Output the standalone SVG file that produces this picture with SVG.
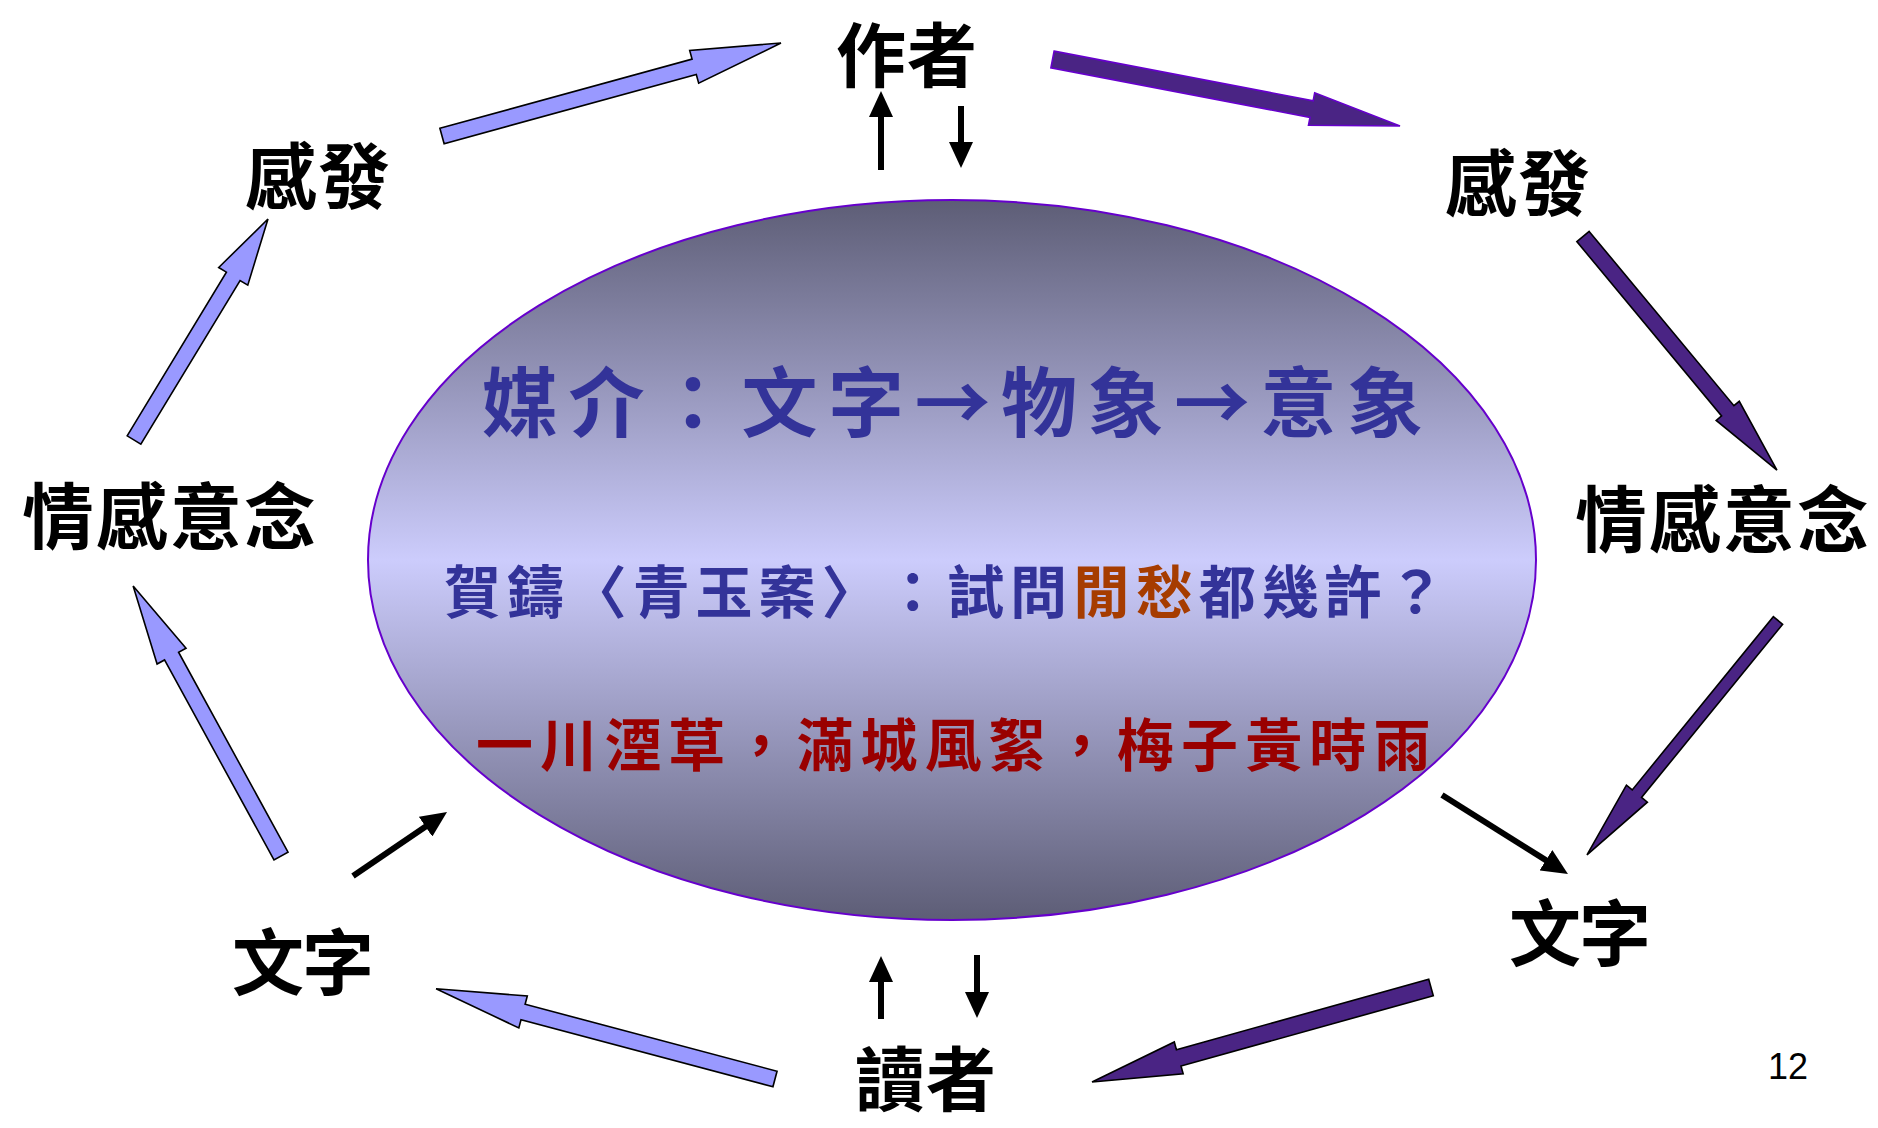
<svg xmlns="http://www.w3.org/2000/svg" width="1878" height="1128" viewBox="0 0 1878 1128">
<defs>
<linearGradient id="eg" x1="0" y1="0" x2="0" y2="1">
<stop offset="0" stop-color="#5d5d76"/>
<stop offset="0.5" stop-color="#ccccfc"/>
<stop offset="1" stop-color="#5d5d76"/>
</linearGradient>
<marker id="ah" markerUnits="userSpaceOnUse" markerWidth="26" markerHeight="24" viewBox="0 0 26 24" refX="6" refY="12" orient="auto">
<path d="M0,0 L26,12 L0,24 z" fill="#000"/>
</marker>
</defs>
<style>
.lbl{font-family:"Noto Sans CJK TC","Noto Sans CJK SC",sans-serif;font-weight:700;font-size:72px;fill:#000}
.lbs{font-family:"Noto Sans CJK TC","Noto Sans CJK SC",sans-serif;font-weight:700;font-size:70px;fill:#000}
.t1{font-family:"Noto Sans CJK TC","Noto Sans CJK SC",sans-serif;font-weight:700;font-size:76px;fill:#333399}
.t2{font-family:"Noto Sans CJK TC","Noto Sans CJK SC",sans-serif;font-weight:700;font-size:57px;fill:#333399}
.t3{font-family:"Noto Sans CJK TC","Noto Sans CJK SC",sans-serif;font-weight:700;font-size:57px;fill:#990000}
.hl{fill:#a63c00}
.la{fill:#9999ff;stroke:#000;stroke-width:1.6;stroke-linejoin:miter}
.da{fill:#4a2484;stroke:#000;stroke-width:1.6}
.da1{fill:#4a2484;stroke:#6600cc;stroke-width:1.6}
.bl{stroke:#000;stroke-width:6;fill:none;marker-end:url(#ah)}
.pg{font-family:"Liberation Sans",Arial,sans-serif;font-size:36px;fill:#000}
</style>
<rect width="1878" height="1128" fill="#fff"/>

<g id="center">
<ellipse cx="952" cy="560" rx="584" ry="360" fill="url(#eg)" stroke="#6600cc" stroke-width="2"/>
<text class="t1" x="482 568.5 655 741.5 828 914.5 1001 1087.5 1174 1260.5 1347" y="431">媒介：文字→物象→意象</text>
<text class="t2" y="613"><tspan x="444 506.9 569.8 632.7 695.6 758.5 821.4 884.3 947.2 1010.1">賀鑄〈青玉案〉：試問</tspan><tspan class="hl" x="1073 1135.9">閒愁</tspan><tspan x="1198.8 1261.7 1324.6 1387.5">都幾許？</tspan></text>
<text class="t3" x="476 540.1 604.2 668.3 732.4 796.5 860.6 924.7 988.8 1052.9 1117 1181.1 1245.2 1309.3 1373.4" y="766">一川湮草，滿城風絮，梅子黃時雨</text>
</g>

<g id="author"><text class="lbs" x="836 907" y="82">作者</text></g>
<g id="inspire-left"><text class="lbl" x="245 318" y="203">感發</text></g>
<g id="inspire-right"><text class="lbl" x="1445 1518" y="210">感發</text></g>
<g id="emotion-left"><text class="lbl" x="22 96 170 244" y="543">情感意念</text></g>
<g id="emotion-right"><text class="lbl" x="1575 1649 1723 1797" y="546">情感意念</text></g>
<g id="words-left"><text class="lbl" x="232 302" y="989">文字</text></g>
<g id="words-right"><text class="lbl" x="1509 1579" y="960">文字</text></g>
<g id="reader"><text class="lbs" x="855 926" y="1106">讀者</text></g>
<g id="page"><text class="pg" x="1768" y="1079">12</text></g>

<g id="connectors">
<polygon class="la" transform="translate(442,136) rotate(-15.34)" points="0,-8 261.5,-8 261.5,-17 351.5,0 261.5,17 261.5,8 0,8"/>
<polygon class="la" transform="translate(134,440) rotate(-58.77)" points="0,-8 191.4,-8 191.4,-17 258.4,0 191.4,17 191.4,8 0,8"/>
<polygon class="la" transform="translate(281,856) rotate(-118.7)" points="0,-8 227.9,-8 227.9,-16.5 307.9,0 227.9,16.5 227.9,8 0,8"/>
<polygon class="la" transform="translate(775,1079) rotate(-165.1)" points="0,-8 260.7,-8 260.7,-16.5 350.7,0 260.7,16.5 260.7,8 0,8"/>
<polygon class="da1" transform="translate(1052.5,59.5) rotate(10.83)" points="0,-8.5 263.8,-8.5 263.8,-16.5 353.8,0 263.8,16.5 263.8,8.5 0,8.5"/>
<polygon class="da" transform="translate(1583,236.5) rotate(50.3)" points="0,-8 226.6,-8 226.6,-15 303.6,0 226.6,15 226.6,8 0,8"/>
<polygon class="da" transform="translate(1778,620.5) rotate(129.17)" points="0,-6 223.4,-6 223.4,-13.5 302.4,0 223.4,13.5 223.4,6 0,6"/>
<polygon class="da" transform="translate(1431,987.5) rotate(164.42)" points="0,-8.5 261.9,-8.5 261.9,-16.5 351.9,0 261.9,16.5 261.9,8.5 0,8.5"/>
<line class="bl" x1="881" y1="170" x2="881" y2="111"/>
<line class="bl" x1="961" y1="106" x2="961" y2="148"/>
<line class="bl" x1="881" y1="1019" x2="881" y2="976"/>
<line class="bl" x1="977" y1="955" x2="977" y2="998"/>
<line class="bl" x1="353" y1="876" x2="430.5" y2="823.3"/>
<line class="bl" x1="1442" y1="795" x2="1551" y2="863.4"/>
</g>
</svg>
